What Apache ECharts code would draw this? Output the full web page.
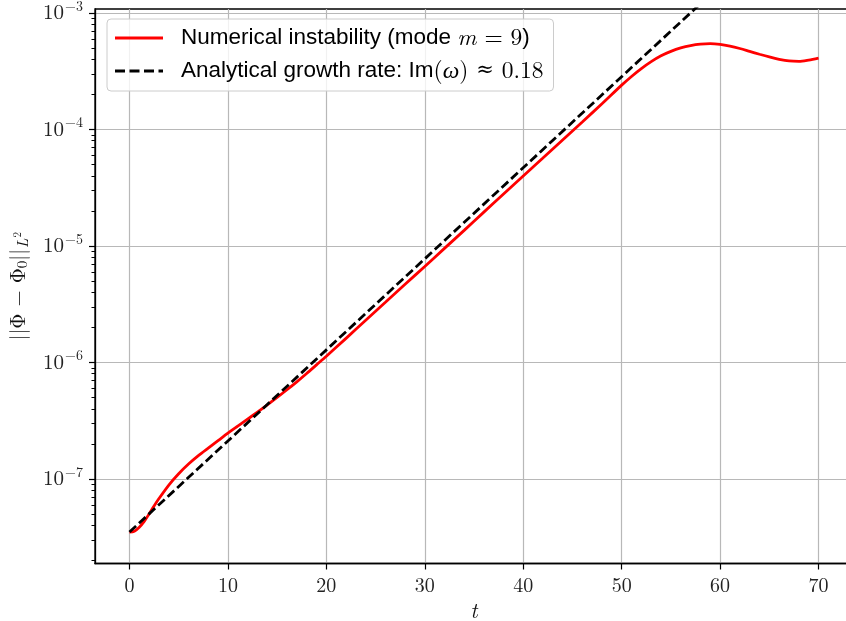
<!DOCTYPE html>
<html>
<head>
<meta charset="utf-8">
<script src="https://cdn.jsdelivr.net/npm/echarts@6/dist/echarts.min.js"></script>
<style>
  html, body { margin: 0; padding: 0; background: #ffffff; }
  #chart { width: 846px; height: 621px; }
</style>
</head>
<body>
<div id="chart"></div>
<script>
// Time samples (t) and L2 norm of the perturbation for the simulated mode m = 9
const tNum = [0, 0.5, 1, 1.5, 2, 2.5, 3, 4, 5, 6, 7, 8, 9, 10, 11, 12, 13, 14, 15, 16, 17, 18, 19, 20,
  22, 24, 26, 28, 30, 32, 34, 36, 38, 40, 42, 44, 46, 48, 50, 51, 52, 53, 54, 55, 56, 57, 58, 59,
  60, 61, 62, 63, 64, 65, 66, 67, 68, 69, 70];
const normNum = [3.50e-8, 3.56e-8, 3.85e-8, 4.32e-8, 5.01e-8, 5.86e-8, 6.79e-8, 8.87e-8, 1.109e-7,
  1.343e-7, 1.585e-7, 1.84e-7, 2.13e-7, 2.47e-7, 2.84e-7, 3.26e-7, 3.74e-7, 4.32e-7, 5.01e-7,
  5.83e-7, 6.82e-7, 8.04e-7, 9.53e-7, 1.13e-6, 1.61e-6, 2.30e-6, 3.28e-6, 4.69e-6, 6.67e-6,
  9.53e-6, 1.36e-5, 1.95e-5, 2.79e-5, 3.99e-5, 5.69e-5, 8.13e-5, 1.16e-4, 1.66e-4, 2.40e-4,
  2.85e-4, 3.33e-4, 3.82e-4, 4.29e-4, 4.68e-4, 5.01e-4, 5.25e-4, 5.40e-4, 5.45e-4, 5.37e-4,
  5.19e-4, 4.95e-4, 4.68e-4, 4.42e-4, 4.19e-4, 4.00e-4, 3.87e-4, 3.84e-4, 3.94e-4, 4.10e-4];

// Analytical exponential growth, Im(omega) ~ 0.18 (a straight line on the log axis)
const tFit = [0, 70];
const normFit = [3.5e-8, 1.04e-2];

// Axis ticks
const xTicks = [0, 10, 20, 30, 40, 50, 60, 70];
const yTicks = [1e-7, 1e-6, 1e-5, 1e-4, 1e-3];
const yMinorTicks = [];
for (let k = -8; k <= -4; k++) {
  for (let m = 2; m <= 9; m++) yMinorTicks.push(m * Math.pow(10, k));
}

const nameNum = 'Numerical instability (mode m = 9)';
const nameFit = 'Analytical growth rate: Im(ω) ≈ 0.18';

const SERIF = '"Latin Modern Roman", "CMU Serif", "Liberation Serif", "DejaVu Serif", serif';
const SANS = '"Liberation Sans", Arial, Helvetica, sans-serif';

const chart = echarts.init(document.getElementById('chart'), null, { renderer: 'canvas' });

const xMin = -3.5, xMax = 73.5;
const yMin = 1.88e-8, yMax = 1.081e-3;

const option = {
  animation: false,
  backgroundColor: '#ffffff',
  grid: {
    left: 95, top: 9, width: 758, height: 554.5,
    outerBoundsMode: 'none',
    containLabel: false,
    show: true, borderColor: '#000000', borderWidth: 1.3, backgroundColor: 'transparent'
  },
  legend: {
    orient: 'vertical',
    left: 107, top: 19,
    padding: [7, 10, 8, 8],
    itemGap: 9,
    itemWidth: 48, itemHeight: 26,
    backgroundColor: 'rgba(255,255,255,0.8)',
    borderColor: '#cccccc', borderWidth: 1, borderRadius: 4,
    data: [
      { name: nameNum, icon: 'path://M0,11.5L48,11.5L48,14.5L0,14.5Z', itemStyle: { color: '#ff0000' } },
      { name: nameFit, icon: 'path://M0,11.5L10,11.5L10,14.5L0,14.5ZM14.5,11.5L24.5,11.5L24.5,14.5L14.5,14.5ZM29,11.5L39,11.5L39,14.5L29,14.5ZM43.5,11.5L48,11.5L48,14.5L43.5,14.5Z', itemStyle: { color: '#000000' } }
    ],
    formatter: function (name) {
      if (name === nameNum) {
        return '{s|Numerical instability (mode }{mi|m}{mr| = 9}{s|)}';
      }
      return '{s|Analytical growth rate: Im}{mr|(}{mi|ω}{mr|) }{ap|≈}{mr| 0.18}';
    },
    textStyle: {
      color: '#000000',
      padding: [0, 0, 0, 13],
      rich: {
        s: { fontFamily: SANS, fontSize: 22.5, color: '#000', lineHeight: 26 },
        mi: { fontFamily: SERIF, fontStyle: 'italic', fontSize: 23.5, color: '#000', lineHeight: 26 },
        mr: { fontFamily: SERIF, fontSize: 23.5, color: '#000', lineHeight: 26 },
        ap: { fontFamily: '"DejaVu Serif", serif', fontSize: 21, color: '#000', lineHeight: 26 }
      }
    }
  },
  xAxis: {
    type: 'value',
    min: xMin, max: xMax,
    name: 't',
    nameLocation: 'middle',
    nameGap: 34,
    nameTextStyle: { fontFamily: SERIF, fontStyle: 'italic', fontSize: 22, color: '#111' },
    axisLine: { show: true, onZero: false, lineStyle: { color: '#000', width: 1.3 } },
    axisTick: { show: true, length: 6, customValues: xTicks, lineStyle: { color: '#000', width: 1.2 } },
    axisLabel: {
      customValues: xTicks, margin: 12,
      fontFamily: SERIF, fontSize: 20, color: '#222'
    },
    splitLine: { show: true, lineStyle: { color: '#b8b8b8', width: 1.2 } }
  },
  yAxis: [
    {
      type: 'log', logBase: 10,
      min: yMin, max: yMax,
      name: '{a|||Φ − Φ}{sub|0}{a|||}{li|L}{sup|2}',
      nameLocation: 'middle',
      nameRotate: 90,
      nameGap: 64,
      nameTextStyle: {
        color: '#111',
        rich: {
          a: { fontFamily: SERIF, fontSize: 21, color: '#111' },
          sub: { fontFamily: SERIF, fontSize: 15, color: '#111', padding: [8, 0, 0, 0] },
          li: { fontFamily: SERIF, fontStyle: 'italic', fontSize: 15, color: '#111', padding: [10, 0, 0, 1] },
          sup: { fontFamily: SERIF, fontSize: 11, color: '#111', padding: [0, 0, 2, 1] }
        }
      },
      axisLine: { show: true, onZero: false, lineStyle: { color: '#000', width: 1.3 } },
      axisTick: { show: true, length: 6, customValues: yTicks, lineStyle: { color: '#000', width: 1.2 } },
      axisLabel: {
        customValues: yTicks, margin: 12,
        formatter: function (v) {
          const p = Math.round(Math.log10(v));
          return '{b|10}{e|' + (p < 0 ? '−' + (-p) : p) + '}';
        },
        rich: {
          b: { fontFamily: SERIF, fontSize: 21, color: '#222' },
          e: { fontFamily: SERIF, fontSize: 14, color: '#222', padding: [0, 0, 13, 1] }
        }
      },
      splitLine: { show: true, lineStyle: { color: '#b8b8b8', width: 1.2 } }
    },
    {
      type: 'log', logBase: 10,
      min: yMin, max: yMax,
      position: 'left',
      axisLine: { show: false, onZero: false },
      axisTick: { show: true, length: 3.5, customValues: yMinorTicks, lineStyle: { color: '#000', width: 1 } },
      axisLabel: { show: false },
      splitLine: { show: false }
    }
  ],
  series: [
    {
      name: nameNum,
      type: 'line',
      data: tNum.map((t, i) => [t, normNum[i]]),
      smooth: 0.3,
      showSymbol: false,
      symbol: 'none',
      lineStyle: { color: '#ff0000', width: 2.8 },
      itemStyle: { color: '#ff0000' },
      z: 3
    },
    {
      name: nameFit,
      type: 'line',
      data: tFit.map((t, i) => [t, normFit[i]]),
      showSymbol: false,
      symbol: 'none',
      lineStyle: { color: '#000000', width: 2.8, type: [9, 4] },
      itemStyle: { color: '#000000' },
      z: 4
    }
  ]
};

chart.setOption(option);
</script>
</body>
</html>
